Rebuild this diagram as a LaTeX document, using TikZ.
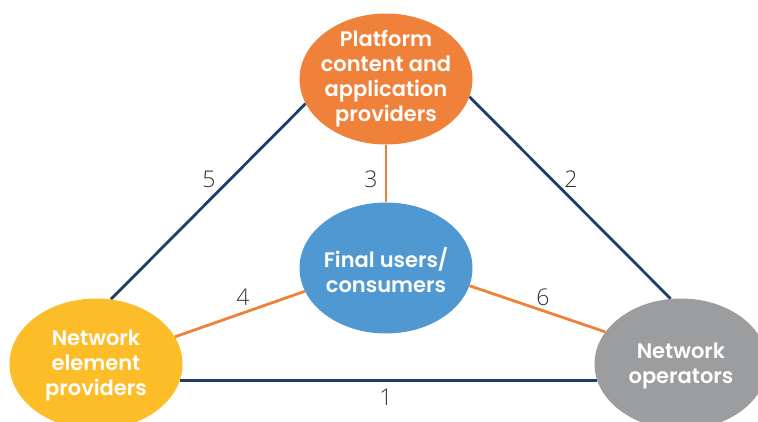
\documentclass[tikz,border=0pt]{standalone}
\usepackage{fontspec}
\setmainfont{Poppins}[BoldFont={Poppins SemiBold}]
\newfontfamily\numfont{Open Sans Light}
\usetikzlibrary{shapes.geometric,backgrounds}
\definecolor{corange}{HTML}{F0813A}
\definecolor{cnavy}{HTML}{1F3D6B}
\definecolor{cblue}{HTML}{4F98D2}
\definecolor{cyellow}{HTML}{FDBD28}
\definecolor{cgray}{HTML}{9B9D9E}
\definecolor{cnum}{HTML}{333333}
\tikzset{
  blob/.style={ellipse, draw=none, inner sep=0pt, minimum width=173pt, minimum height=131pt},
  blobtext/.style={text=white, font=\bfseries\fontsize{21}{25}\selectfont, align=center, inner sep=0pt},
  navyline/.style={draw=cnavy, line width=2.8pt},
  orangeline/.style={draw=corange, line width=2.8pt},
  numlabel/.style={text=cnum, font=\numfont\fontsize{23}{23}\selectfont, inner sep=0pt}
}
\begin{document}
\begin{tikzpicture}[x=1pt,y=-1pt]
\useasboundingbox (0,0) rectangle (758,421);
\node[blob, fill=corange] (top) at (386,79) {};
\node[blob, fill=cblue] (mid) at (386,268) {};
\node[blob, fill=cyellow] (left) at (96,364) {};
\node[blob, fill=cgray] (right) at (681,364) {};
\node[blobtext] (toptext) at (top.center) {Platform\\content and\\application\\providers};
\node[blobtext] (midtext) at ([yshift=-2pt]mid.center) {Final users/\\consumers};
\node[blobtext] (lefttext) at ([yshift=-1pt]left.center) {Network\\element\\providers};
\node[blobtext] (righttext) at ([yshift=-2pt]right.center) {Network\\operators};
\begin{scope}[on background layer]
\draw[navyline] (left.-11.6) -- (right.191.6);
\draw[navyline] (left.77) -- (top.197.8);
\draw[navyline] (top.-12.7) -- (right.99.5);
\draw[orangeline] (top.south) -- (mid.north);
\draw[orangeline] (left.19.5) -- (mid.196.5);
\draw[orangeline] (mid.-12) -- (right.157.8);
\end{scope}
\node[numlabel] (n5) at (209,179) {5};
\node[numlabel] (n3) at (371,179) {3};
\node[numlabel] (n2) at (571,179) {2};
\node[numlabel] (n4) at (243,297) {4};
\node[numlabel] (n6) at (543,297) {6};
\node[numlabel] (n1) at (386,397) {1};
\end{tikzpicture}
\end{document}
